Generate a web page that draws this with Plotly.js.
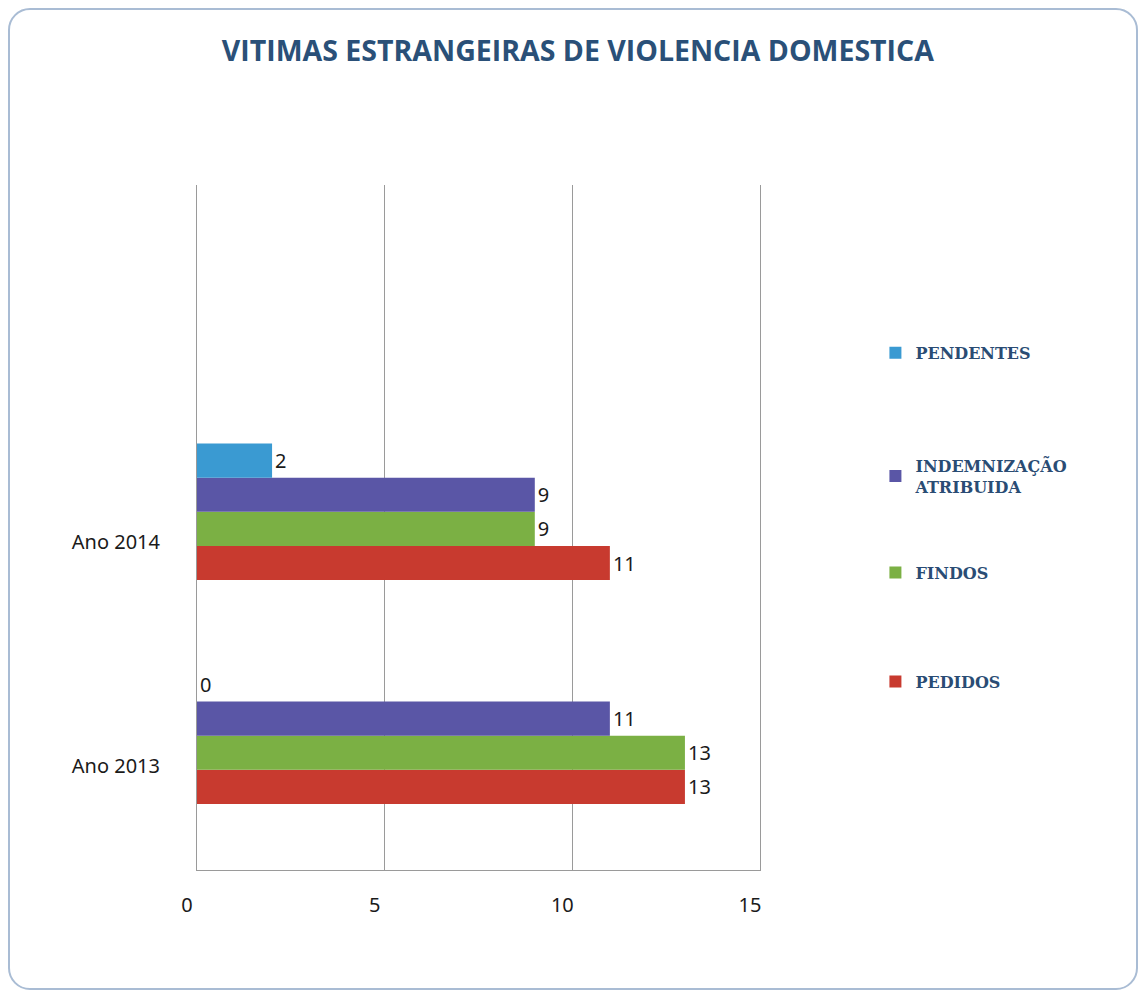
<!DOCTYPE html>
<html>
<head>
<meta charset="utf-8">
<script src="https://cdn.plot.ly/plotly-3.0.1.min.js"></script>
<style>
  html, body { margin: 0; padding: 0; background: #ffffff; }
  #wrap { position: relative; width: 1142px; height: 994px; }
  #chart { position: absolute; left: 0; top: 0; width: 1142px; height: 994px; }
  #frame { position: absolute; left: 8px; top: 8px; width: 1126px; height: 978px;
           border: 2px solid #a9bcd4; border-radius: 22px; pointer-events: none; }
</style>
</head>
<body>
<div id="wrap">
  <div id="chart"></div>
  <div id="frame"></div>
</div>
<script>
// ---- data ----
const categories = ["Ano 2013", "Ano 2014"];
const pedidos = [13, 11];
const findos = [13, 9];
const indemnizacao = [11, 9];
const pendentes = [0, 2];
const seriesNames = ["PEDIDOS", "FINDOS", "INDEMNIZAÇÃO<br>ATRIBUIDA", "PENDENTES"];
const seriesColors = ["#c83a2f", "#7bb044", "#5a56a6", "#3a9ad2"];
const xTicks = [0, 5, 10, 15];

const seriesValues = [pedidos, findos, indemnizacao, pendentes];
const legendIds = ["legend4", "legend3", "legend2", "legend"];
const legendYs = [0.275, 0.434, 0.575, 0.755];

const legendFont = { family: "DejaVu Serif, serif", size: 16, color: "#2a4c74", weight: "bold" };

const traces = seriesValues.map((vals, i) => ({
  type: "bar",
  orientation: "h",
  name: seriesNames[i],
  legend: legendIds[i],
  y: categories,
  x: vals,
  text: vals.map(String),
  textposition: "outside",
  cliponaxis: false,
  textfont: { family: "Noto Sans, sans-serif", size: 20, color: "#1a1a1a" },
  marker: { color: seriesColors[i], line: { width: 0 } },
  hoverinfo: "x+name"
}));

const layout = {
  width: 1142,
  height: 994,
  paper_bgcolor: "#ffffff",
  plot_bgcolor: "#ffffff",
  margin: { l: 197, r: 382, t: 185, b: 124 },
  title: {
    text: "<b>VITIMAS ESTRANGEIRAS DE VIOLENCIA DOMESTICA</b>",
    font: { family: "Open Sans, sans-serif", size: 28.5, color: "#2a5078" },
    x: 0.506, xanchor: "center",
    y: 0.949, yanchor: "middle"
  },
  barmode: "group",
  bargap: 0.39,
  bargroupgap: 0,
  showlegend: true,
  xaxis: {
    range: [0, 15],
    tickvals: xTicks,
    ticktext: xTicks.map(String),
    showgrid: true,
    gridcolor: "#9a9a9a",
    gridwidth: 1,
    zeroline: false,
    showline: true,
    linecolor: "#9a9a9a",
    linewidth: 1,
    ticks: "",
    ticklabelstandoff: 17,
    ticklabelshift: -10,
    tickfont: { family: "Noto Sans, sans-serif", size: 20, color: "#1a1a1a" },
    fixedrange: true
  },
  yaxis: {
    type: "category",
    categoryorder: "array",
    categoryarray: categories,
    range: [-0.6, 2.46],
    showgrid: false,
    zeroline: false,
    showline: true,
    mirror: true,
    linecolor: "#9a9a9a",
    linewidth: 1,
    ticks: "",
    ticklabelstandoff: 32,
    ticklabelshift: 30,
    tickfont: { family: "Noto Sans, sans-serif", size: 20, color: "#1a1a1a" },
    fixedrange: true
  }
};

legendIds.forEach((id, i) => {
  layout[id] = {
    x: 1.205, xanchor: "left",
    y: legendYs[i], yanchor: "middle",
    font: legendFont,
    itemwidth: 30,
    bgcolor: "rgba(0,0,0,0)"
  };
});

Plotly.newPlot("chart", traces, layout, { displayModeBar: false, staticPlot: true });
</script>
</body>
</html>
